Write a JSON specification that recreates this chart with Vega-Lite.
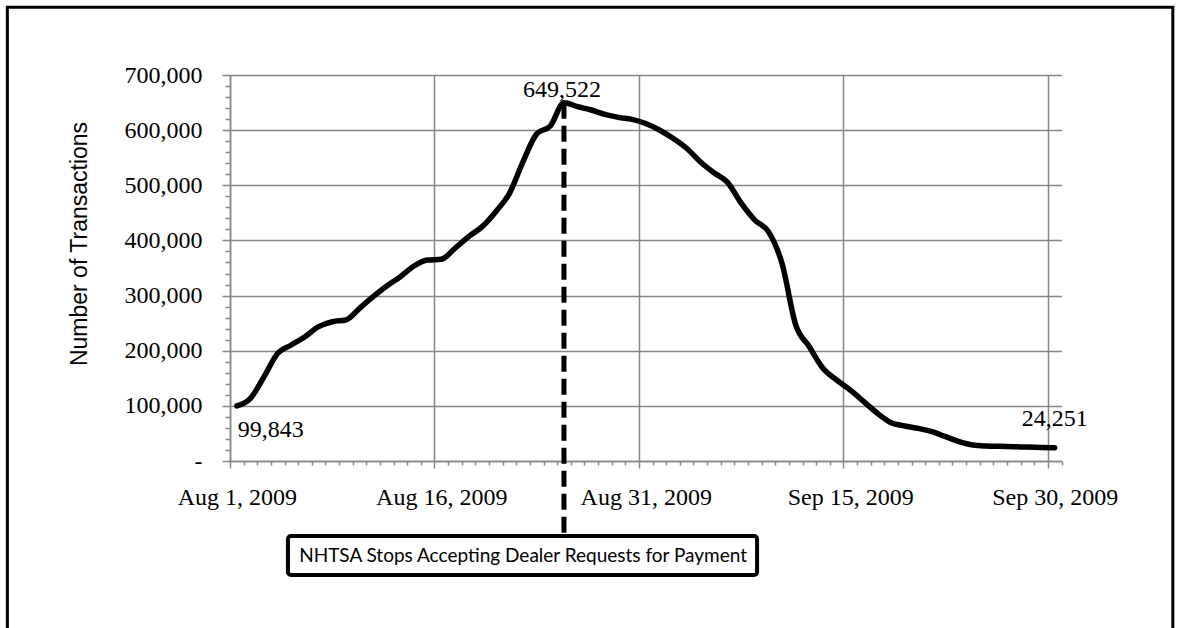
{
  "$schema": "https://vega.github.io/schema/vega-lite/v6.json",
  "width": 831.5,
  "height": 386,
  "autosize": {"type": "none"},
  "padding": {"left": 230, "top": 75, "right": 118.5, "bottom": 167},
  "background": "white",
  "config": {"view": {"stroke": null}},
  "datasets": {
    "daily": [
      {"date": "2009-08-01", "transactions": 99843},
      {"date": "2009-08-02", "transactions": 113700},
      {"date": "2009-08-03", "transactions": 152900},
      {"date": "2009-08-04", "transactions": 195300},
      {"date": "2009-08-05", "transactions": 210400},
      {"date": "2009-08-06", "transactions": 225400},
      {"date": "2009-08-07", "transactions": 243600},
      {"date": "2009-08-08", "transactions": 252600},
      {"date": "2009-08-09", "transactions": 255700},
      {"date": "2009-08-10", "transactions": 276900},
      {"date": "2009-08-11", "transactions": 298000},
      {"date": "2009-08-12", "transactions": 317400},
      {"date": "2009-08-13", "transactions": 334300},
      {"date": "2009-08-14", "transactions": 353600},
      {"date": "2009-08-15", "transactions": 364500},
      {"date": "2009-08-16", "transactions": 365800},
      {"date": "2009-08-17", "transactions": 385700},
      {"date": "2009-08-18", "transactions": 406800},
      {"date": "2009-08-19", "transactions": 425000},
      {"date": "2009-08-20", "transactions": 452200},
      {"date": "2009-08-21", "transactions": 485400},
      {"date": "2009-08-22", "transactions": 543000},
      {"date": "2009-08-23", "transactions": 593200},
      {"date": "2009-08-24", "transactions": 607600},
      {"date": "2009-08-25", "transactions": 649522},
      {"date": "2009-08-26", "transactions": 642600},
      {"date": "2009-08-27", "transactions": 636500},
      {"date": "2009-08-28", "transactions": 628700},
      {"date": "2009-08-29", "transactions": 623200},
      {"date": "2009-08-30", "transactions": 619600},
      {"date": "2009-08-31", "transactions": 612000},
      {"date": "2009-09-01", "transactions": 600300},
      {"date": "2009-09-02", "transactions": 585200},
      {"date": "2009-09-03", "transactions": 567100},
      {"date": "2009-09-04", "transactions": 542800},
      {"date": "2009-09-05", "transactions": 522800},
      {"date": "2009-09-06", "transactions": 505200},
      {"date": "2009-09-07", "transactions": 467600},
      {"date": "2009-09-08", "transactions": 437000},
      {"date": "2009-09-09", "transactions": 415900},
      {"date": "2009-09-10", "transactions": 358000},
      {"date": "2009-09-11", "transactions": 247000},
      {"date": "2009-09-12", "transactions": 207300},
      {"date": "2009-09-13", "transactions": 168100},
      {"date": "2009-09-14", "transactions": 146900},
      {"date": "2009-09-15", "transactions": 128800},
      {"date": "2009-09-16", "transactions": 107600},
      {"date": "2009-09-17", "transactions": 86400},
      {"date": "2009-09-18", "transactions": 69500},
      {"date": "2009-09-19", "transactions": 63500},
      {"date": "2009-09-20", "transactions": 59200},
      {"date": "2009-09-21", "transactions": 53200},
      {"date": "2009-09-22", "transactions": 44100},
      {"date": "2009-09-23", "transactions": 35000},
      {"date": "2009-09-24", "transactions": 29000},
      {"date": "2009-09-25", "transactions": 27200},
      {"date": "2009-09-26", "transactions": 26600},
      {"date": "2009-09-27", "transactions": 26000},
      {"date": "2009-09-28", "transactions": 25200},
      {"date": "2009-09-29", "transactions": 24600},
      {"date": "2009-09-30", "transactions": 24251}
    ],
    "notes": [
      {"date": "2009-08-01", "transactions": 99843, "note": "start", "label": "99,843"},
      {"date": "2009-08-25", "transactions": 649522, "note": "peak", "label": "649,522"},
      {"date": "2009-09-30", "transactions": 24251, "note": "end", "label": "24,251"}
    ],
    "event": [
      {"date": "2009-08-25", "label": "NHTSA Stops Accepting Dealer Requests for Payment"}
    ]
  },
  "layer": [
    {
      "data": {"name": "daily"},
      "mark": {"type": "line", "color": "black", "strokeWidth": 5.5, "interpolate": "monotone", "strokeCap": "round", "strokeJoin": "round"},
      "encoding": {
        "x": {
          "field": "date", "type": "temporal",
          "scale": {"type": "utc", "domain": [1249041600000, 1254312000000], "nice": false},
          "axis": {
            "values": [1249041600000,1249128000000,1249214400000,1249300800000,1249387200000,1249473600000,1249560000000,1249646400000,1249732800000,1249819200000,1249905600000,1249992000000,1250078400000,1250164800000,1250251200000,1250337600000,1250424000000,1250510400000,1250596800000,1250683200000,1250769600000,1250856000000,1250942400000,1251028800000,1251115200000,1251201600000,1251288000000,1251374400000,1251460800000,1251547200000,1251633600000,1251720000000,1251806400000,1251892800000,1251979200000,1252065600000,1252152000000,1252238400000,1252324800000,1252411200000,1252497600000,1252584000000,1252670400000,1252756800000,1252843200000,1252929600000,1253016000000,1253102400000,1253188800000,1253275200000,1253361600000,1253448000000,1253534400000,1253620800000,1253707200000,1253793600000,1253880000000,1253966400000,1254052800000,1254139200000,1254225600000,1254312000000],
            "tickCount": 200,
            "labelExpr": "round((toNumber(datum.value) - 1249041600000) / 86400000) % 15 === 0 ? utcFormat(toNumber(datum.value) + 43200000, '%b %-d, %Y') : ''",
            "labelOffset": 6.82,
            "labelFont": "Liberation Serif",
            "labelFontSize": 24,
            "labelColor": "black",
            "labelPadding": 17,
            "labelOverlap": false,
            "labelFlush": false,
            "labelBound": false,
            "tickSize": {"condition": {"test": "round((toNumber(datum.value) - 1249041600000) / 86400000) % 15 === 0", "value": 7}, "value": 4},
            "tickColor": "#868686",
            "tickWidth": 1.5,
            "grid": true,
            "gridColor": "#868686",
            "gridWidth": 1.5,
            "gridOpacity": {"condition": {"test": "round((toNumber(datum.value) - 1249041600000) / 86400000) % 15 === 0", "value": 1}, "value": 0},
            "domainColor": "#868686",
            "domainWidth": 1.5,
            "title": null
          }
        },
        "y": {
          "field": "transactions", "type": "quantitative",
          "scale": {"domain": [0, 700000], "nice": false, "zero": false},
          "axis": {
            "values": [0,20000,40000,60000,80000,100000,120000,140000,160000,180000,200000,220000,240000,260000,280000,300000,320000,340000,360000,380000,400000,420000,440000,460000,480000,500000,520000,540000,560000,580000,600000,620000,640000,660000,680000,700000],
            "tickCount": 200,
            "labelExpr": "datum.value % 100000 === 0 ? (datum.value === 0 ? '-\u00a0' : format(datum.value, ',')) : ''",
            "labelFont": "Liberation Serif",
            "labelFontSize": 24,
            "labelColor": "black",
            "labelPadding": 20,
            "labelOverlap": false,
            "tickSize": {"condition": {"test": "datum.value % 100000 === 0", "value": 8}, "value": 5},
            "tickColor": "#868686",
            "tickWidth": 1.5,
            "grid": true,
            "gridColor": "#868686",
            "gridWidth": 1.5,
            "gridOpacity": {"condition": {"test": "datum.value % 100000 === 0", "value": 1}, "value": 0},
            "domainColor": "#868686",
            "domainWidth": 1.5,
            "title": "Number of Transactions",
            "titleFont": "Liberation Sans",
            "titleFontSize": 23,
            "titleFontWeight": "normal",
            "titleColor": "black",
            "titleX": -139,
            "titleY": 168.5
          }
        }
      }
    },
    {
      "data": {"name": "event"},
      "mark": {"type": "rect", "filled": false, "stroke": "black", "strokeWidth": 3},
      "encoding": {
        "x": {"datum": {"year": 2009, "month": 7, "date": 15, "hours": 4, "utc": true}, "type": "temporal"},
        "x2": {"datum": {"year": 2009, "month": 10, "date": 8, "hours": 16, "utc": true}},
        "y": {"datum": 823000, "type": "quantitative"},
        "y2": {"datum": -330000}
      }
    },
    {
      "data": {"name": "notes"},
      "transform": [{"filter": "datum.note === 'peak'"}],
      "mark": {"type": "rule", "color": "black", "strokeWidth": 5, "strokeDash": [16, 7]},
      "encoding": {
        "x": {"field": "date", "type": "temporal"},
        "y": {"field": "transactions", "type": "quantitative"},
        "y2": {"datum": -136000}
      }
    },
    {
      "data": {"name": "event"},
      "mark": {"type": "rect", "fill": "white", "stroke": "black", "strokeWidth": 4, "cornerRadius": 3},
      "encoding": {
        "x": {"datum": {"year": 2009, "month": 8, "date": 4, "hours": 18, "utc": true}, "type": "temporal"},
        "x2": {"datum": {"year": 2009, "month": 9, "date": 8, "hours": 4, "utc": true}},
        "y": {"datum": -136000, "type": "quantitative"},
        "y2": {"datum": -206700}
      }
    },
    {
      "data": {"name": "event"},
      "mark": {"type": "text", "font": "Lato", "fontSize": 19, "color": "black", "align": "center", "baseline": "middle"},
      "encoding": {
        "x": {"datum": {"year": 2009, "month": 8, "date": 22, "hours": 0, "utc": true}, "type": "temporal"},
        "y": {"datum": -171400, "type": "quantitative"},
        "text": {"field": "label"}
      }
    },
    {
      "data": {"name": "notes"},
      "transform": [{"filter": "datum.note === 'peak'"}],
      "mark": {"type": "text", "font": "Liberation Serif", "fontSize": 24, "color": "black", "align": "center", "baseline": "alphabetic", "dy": -6, "dx": -2},
      "encoding": {
        "x": {"field": "date", "type": "temporal"},
        "y": {"field": "transactions", "type": "quantitative"},
        "text": {"field": "label"}
      }
    },
    {
      "data": {"name": "notes"},
      "transform": [{"filter": "datum.note === 'start'"}],
      "mark": {"type": "text", "font": "Liberation Serif", "fontSize": 24, "color": "black", "align": "left", "baseline": "alphabetic", "dy": 31, "dx": 1},
      "encoding": {
        "x": {"field": "date", "type": "temporal"},
        "y": {"field": "transactions", "type": "quantitative"},
        "text": {"field": "label"}
      }
    },
    {
      "data": {"name": "notes"},
      "transform": [{"filter": "datum.note === 'end'"}],
      "mark": {"type": "text", "font": "Liberation Serif", "fontSize": 24, "color": "black", "align": "center", "baseline": "alphabetic", "dy": -22},
      "encoding": {
        "x": {"field": "date", "type": "temporal"},
        "y": {"field": "transactions", "type": "quantitative"},
        "text": {"field": "label"}
      }
    }
  ]
}
